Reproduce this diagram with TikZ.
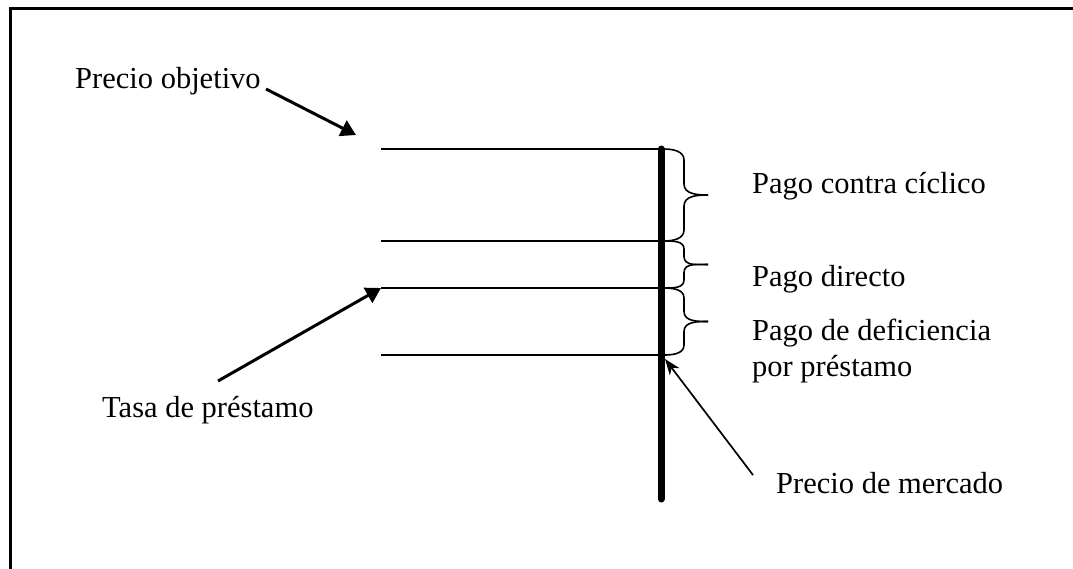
\documentclass[tikz,border=0pt]{standalone}
\usepackage{fontspec}
\setmainfont{Liberation Serif}
\usetikzlibrary{arrows.meta}
\begin{document}
\begin{tikzpicture}[x=1pt,y=-1pt,
  lbl/.style={anchor=base west,inner sep=0pt,font=\fontsize{30.5}{36}\selectfont},
  level/.style={line width=1.6pt},
  axis/.style={line width=7pt,line cap=round},
  curly/.style={line width=1.6pt},
  boldarrow/.style={line width=3pt,-{Triangle[length=15pt,width=17pt]}},
  thinarrow/.style={line width=1.7pt,-{Stealth[length=16pt,width=12pt,inset=5pt]}},
  frameline/.style={line width=3pt}]
  \useasboundingbox (0,0) rectangle (1073,568);
  % frame, open to the right and bottom
  \draw[frameline] (10,575) -- (10,8) -- (1080,8);

  % price levels
  \coordinate (t1) at (381,149); \coordinate (t2) at (661,149);
  \coordinate (c1) at (381,241); \coordinate (c2) at (661,241);
  \coordinate (d1) at (381,288); \coordinate (d2) at (661,288);
  \coordinate (l1) at (381,355); \coordinate (l2) at (661,355);
  \draw[level] (t1) -- (t2);
  \draw[level] (c1) -- (c2);
  \draw[level] (d1) -- (d2);
  \draw[level] (l1) -- (l2);

  % market price axis
  \coordinate (ax1) at (661,149);
  \coordinate (ax2) at (661,499);
  \draw[axis] (ax1) -- (ax2);

  % braces: top, bottom, corner size
  \foreach \ya/\yb/\c in {149/241/11, 241/288/8, 288/355/10}{
    \pgfmathsetmacro{\ym}{(\ya+\yb)/2}
    \draw[curly] (664,\ya) to[out=0,in=90] (684,\ya+\c) -- (684,\ym-\c)
      to[out=270,in=180] (708,\ym);
    \draw[curly] (664,\yb) to[out=0,in=270] (684,\yb-\c) -- (684,\ym+\c)
      to[out=90,in=180] (708,\ym);
  }

  % labels
  \node[lbl] (po) at (75,88) {Precio objetivo};
  \node[lbl] (pcc) at (752,193) {Pago contra cíclico};
  \node[lbl] (pd) at (752,286) {Pago directo};
  \node[lbl] (pdp) at (752,340) {Pago de deficiencia};
  \node[lbl] (pdp2) at (752,376) {por préstamo};
  \node[lbl] (tp) at (102,417) {Tasa de préstamo};
  \node[lbl] (pm) at (776,493) {Precio de mercado};

  % pointers
  \coordinate (poa) at (266,89);
  \coordinate (pob) at (356,135);
  \draw[boldarrow] (poa) -- (pob);
  \coordinate (tpa) at (218,381);
  \coordinate (tpb) at (381,288);
  \draw[boldarrow] (tpa) -- (tpb);
  \coordinate (pma) at (753,475);
  \coordinate (pmb) at (665,359);
  \draw[thinarrow] (pma) -- (pmb);
\end{tikzpicture}
\end{document}
